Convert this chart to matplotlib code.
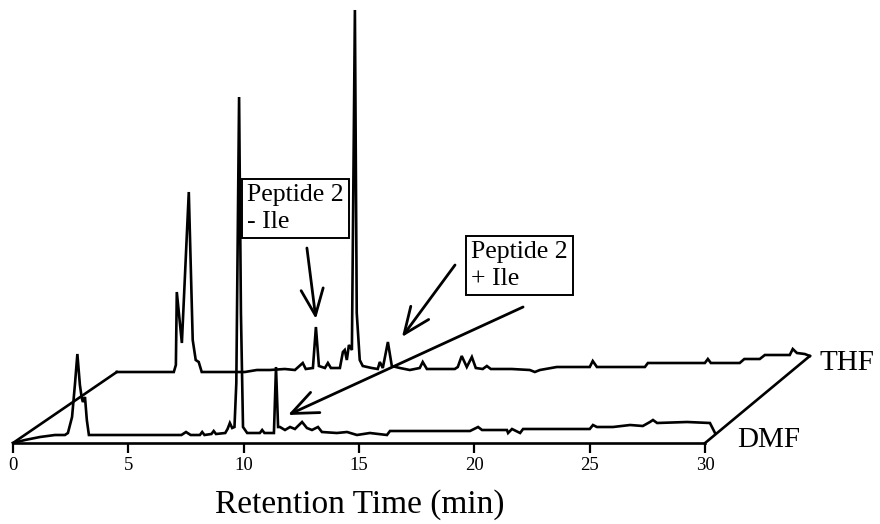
import matplotlib
matplotlib.use('Agg')
import matplotlib.pyplot as plt

plt.rcParams['font.family'] = ['Liberation Serif', 'DejaVu Serif']

# DMF chromatogram (front trace): time / min, signal / arbitrary units
dmf_time = [0, 0.52, 1.17, 1.82, 2.25, 2.38, 2.56, 2.69, 2.79, 2.9, 2.98, 3.03, 3.12, 3.2, 3.29,
            4.5, 6.0, 7.3, 7.5, 7.7, 8.1, 8.2, 8.3, 8.6, 8.7, 8.8, 9.2, 9.3, 9.4, 9.5, 9.6,
            9.68, 9.8, 9.88, 9.97, 10.15, 10.7, 10.8, 10.9, 11.31, 11.4, 11.49, 11.57, 11.79,
            12.01, 12.22, 12.53, 12.74, 12.96, 13.22, 13.39, 14.04, 14.48, 14.91, 15.47,
            16.21, 16.34, 19.81, 20.16, 20.33, 21.41, 21.46, 21.63, 21.98, 22.11, 25.0, 25.14,
            25.31, 26.01, 26.75, 27.3, 27.61, 27.74, 27.92, 29.22, 30.21, 30.43]
dmf_signal = [0, 3, 6, 8, 8, 10, 26, 60, 89, 58, 45, 41, 46, 23, 8,
              8, 8, 8, 11, 8, 8, 11, 8, 9, 12, 9, 10, 14, 20, 15, 16,
              60, 346, 130, 16, 10, 10, 13, 10, 10, 76, 16, 16, 13,
              16, 14, 21, 15, 13, 16, 11, 10, 11, 8, 10,
              8, 12, 12, 16, 13, 13, 10, 14, 10, 14, 14, 18,
              16, 16, 18, 17, 21, 23, 20, 21, 20, 10]

# THF chromatogram (back trace)
thf_time = [0, 2.47, 2.56, 2.6, 2.82, 3.12, 3.29, 3.42, 3.55, 3.68, 5.55, 6.07, 6.63, 7.28, 7.72,
            8.06, 8.19, 8.5, 8.63, 8.76, 9.02, 9.15, 9.28, 9.67, 9.8, 9.88, 9.97, 10.06, 10.19,
            10.32, 10.4, 10.53, 10.66, 11.05, 11.31, 11.4, 11.53, 11.75, 11.92, 12.27, 12.7,
            13.13, 13.26, 13.44, 14.65, 14.78, 14.95, 15.17, 15.39, 15.56, 15.86, 16.04, 16.21,
            17.12, 17.9, 18.12, 18.34, 19.07, 20.5, 20.63, 20.81, 22.89, 23.02, 25.49, 25.62,
            25.75, 27.0, 27.2, 27.87, 28.09, 29.17, 29.3, 29.48, 29.82, 30.04]
thf_signal = [0, 0, 7, 80, 29, 180, 32, 12, 10, 0, 0, 2, 2, 3, 2,
              9, 3, 4, 45, 6, 4, 9, 4, 4, 20, 22, 12, 27, 22,
              362, 59, 12, 6, 4, 3, 10, 4, 30, 6, 4, 2,
              4, 10, 3, 3, 5, 16, 5, 15, 4, 3, 6, 3,
              3, 2, 0, 2, 5, 5, 11, 5, 5, 9, 9, 13,
              9, 9, 13, 13, 17, 17, 23, 19, 18, 16]

ticks = [0, 5, 10, 15, 20, 25, 30]

# pseudo-3D offset of the back trace
shift_t = 4.5
shift_y = 71

fig = plt.figure(figsize=(8.8, 5.24), dpi=100)
ax = fig.add_axes([0, 81 / 524, 1, 443 / 524])
ax.set_xlim(-13 / 23.07, 867 / 23.07)
ax.set_ylim(0, 443)

lw = 1.9
ax.plot(dmf_time, dmf_signal, color='black', lw=lw, clip_on=False, solid_joinstyle='miter')
thf_x = [t + shift_t for t in thf_time]
thf_y = [s + shift_y for s in thf_signal]
ax.plot(thf_x, thf_y, color='black', lw=lw, clip_on=False, solid_joinstyle='miter')

# edges joining the two planes
ax.plot([dmf_time[0], thf_x[0]], [dmf_signal[0], thf_y[0]], color='black', lw=lw)
ax.plot([ticks[-1], thf_x[-1]], [0, thf_y[-1]], color='black', lw=lw)

for s in ['top', 'right', 'left']:
    ax.spines[s].set_visible(False)
ax.spines['bottom'].set_bounds(0, 30)
ax.spines['bottom'].set_linewidth(1.9)
ax.set_yticks([])
ax.set_xticks(ticks)
ax.tick_params(axis='x', direction='out', length=7, width=1.6, pad=3, labelsize=13.5)

fig.text(360 / 880, 1 - 505 / 524, 'Retention Time (min)', ha='center', va='center', fontsize=24)

ax.text(34.98, 80, 'THF', fontsize=21, ha='left', va='center')
ax.text(31.38, 3, 'DMF', fontsize=21, ha='left', va='center')

box = dict(boxstyle='square,pad=0.2', fc='white', ec='black', lw=1.4)
ax.text(10.14, 259, 'Peptide 2\n- Ile', fontsize=18.5, ha='left', va='top',
        linespacing=1.3, bbox=box)
ax.text(19.85, 202, 'Peptide 2\n+ Ile', fontsize=18.5, ha='left', va='top',
        linespacing=1.3, bbox=box)

arrow = dict(arrowstyle='->,head_length=0.95,head_width=0.4', lw=2.0, color='black',
             mutation_scale=20, shrinkA=0, shrinkB=0)
ax.annotate('', xy=(13.13, 124), xytext=(12.74, 195), arrowprops=arrow)
ax.annotate('', xy=(16.86, 106), xytext=(19.16, 178), arrowprops=arrow)
ax.annotate('', xy=(11.92, 28), xytext=(22.11, 136), arrowprops=arrow)

plt.savefig('out.png', dpi=100)
